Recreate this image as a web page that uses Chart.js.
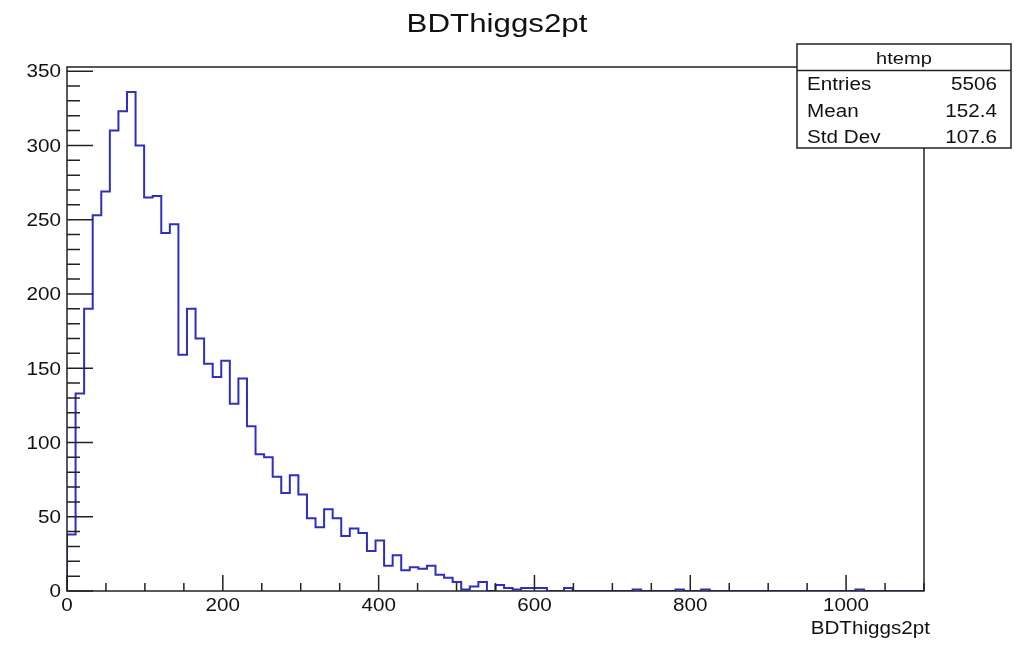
<!DOCTYPE html>
<html lang="en">
<head>
<meta charset="UTF-8">
<title>BDThiggs2pt</title>
<script src="https://cdn.jsdelivr.net/npm/chart.js"></script>
<style>
    body {
        margin: 0;
        background-color: #ffffff;
    }
    #chart {
        display: block;
    }
</style>
</head>
<body>
<canvas id="chart" width="1025" height="645"></canvas>
<script>
// histogram binning (100 bins from 0 to 1100)
const xMin = 0;
const xMax = 1100;
const yMax = 352.8;
const binCounts = [
    38, 133, 190, 253, 269, 310, 323, 336, 300, 265,
    266, 241, 247, 159, 190, 170, 153, 144, 155, 126,
    143, 111, 92, 90, 77, 66, 78, 65, 49, 43,
    55, 49, 37, 42, 39, 27, 34, 17, 24, 14,
    16, 15, 17, 11, 9, 6, 1, 3, 6, 0,
    4, 2, 1, 2, 2, 2, 0, 0, 2, 0,
    0, 0, 0, 0, 0, 0, 1, 0, 0, 0,
    0, 1, 0, 0, 1, 0, 0, 0, 0, 0,
    0, 0, 0, 0, 0, 0, 0, 0, 0, 0,
    0, 0, 1, 0, 0, 0, 0, 0, 0, 0
];
const xTickLabels = [0, 200, 400, 600, 800, 1000];
const yTickLabels = [0, 50, 100, 150, 200, 250, 300, 350];
const histTitle = 'BDThiggs2pt';
const xAxisTitle = 'BDThiggs2pt';
const statsTitle = 'htemp';
const statsNames = ['Entries', 'Mean', 'Std Dev'];
const statsValues = ['5506', '152.4', '107.6'];

// step line points: left edge of every bin, closed down to the axis
const binWidth = (xMax - xMin) / binCounts.length;
const points = [{x: xMin, y: 0}];
binCounts.forEach((c, i) => points.push({x: xMin + i * binWidth, y: c}));
points.push({x: xMax, y: binCounts[binCounts.length - 1]});
points.push({x: xMax, y: 0});

const FONT = '"Liberation Sans", Arial, Helvetica, sans-serif';
const STRETCH = 1.18; // text in the picture is a bit wide

function drawText(ctx, s, x, y, size, align) {
    ctx.save();
    ctx.font = size + 'px ' + FONT;
    ctx.textAlign = align;
    ctx.textBaseline = 'alphabetic';
    ctx.fillStyle = '#111';
    ctx.translate(x, y);
    ctx.scale(STRETCH, 1);
    ctx.fillText(s, 0, 0);
    ctx.restore();
}

const rootFrame = {
    id: 'rootFrame',
    beforeDraw(chart) {
        const ctx = chart.ctx;
        ctx.save();
        ctx.fillStyle = '#ffffff';
        ctx.fillRect(0, 0, chart.width, chart.height);
        ctx.restore();
    },
    afterDatasetsDraw(chart) {
        const ctx = chart.ctx;
        const a = chart.chartArea;
        const xs = chart.scales.x;
        const ys = chart.scales.y;
        ctx.save();
        ctx.strokeStyle = '#222';
        ctx.lineWidth = 1.5;

        // minor + major ticks, drawn inside the frame like ROOT
        ctx.beginPath();
        for (let v = 0; v <= xMax; v += 50) {
            const px = xs.getPixelForValue(v);
            const len = (v % 200 === 0) ? 16 : 8;
            ctx.moveTo(px, a.bottom);
            ctx.lineTo(px, a.bottom - len);
        }
        for (let v = 0; v <= yMax; v += 10) {
            const py = ys.getPixelForValue(v);
            const len = (v % 50 === 0) ? 26 : 13;
            ctx.moveTo(a.left, py);
            ctx.lineTo(a.left + len, py);
        }
        ctx.stroke();

        // frame
        ctx.strokeRect(a.left, a.top, a.right - a.left, a.bottom - a.top);
        ctx.restore();

        xTickLabels.forEach(v => drawText(ctx, String(v), xs.getPixelForValue(v), a.bottom + 20, 17.5, 'center'));
        yTickLabels.forEach(v => drawText(ctx, String(v), a.left - 6, ys.getPixelForValue(v) + 6.3, 17.5, 'right'));

        drawText(ctx, histTitle, 497, 31.5, 26.5, 'center');
        drawText(ctx, xAxisTitle, 930, 634, 17.5, 'right');

        // stats box
        const bx = 797, by = 44, bw = 214, bh = 104, hdr = 26.5;
        ctx.save();
        ctx.fillStyle = '#ffffff';
        ctx.fillRect(bx, by, bw, bh);
        ctx.strokeStyle = '#222';
        ctx.lineWidth = 1.5;
        ctx.strokeRect(bx, by, bw, bh);
        ctx.beginPath();
        ctx.moveTo(bx, by + hdr);
        ctx.lineTo(bx + bw, by + hdr);
        ctx.stroke();
        ctx.restore();
        drawText(ctx, statsTitle, bx + bw / 2, by + 20, 17, 'center');
        statsNames.forEach((n, i) => {
            const yy = by + 46 + i * 26.7;
            drawText(ctx, n, bx + 10, yy, 17.5, 'left');
            drawText(ctx, statsValues[i], bx + bw - 14, yy, 17.5, 'right');
        });
    }
};

new Chart(document.getElementById('chart'), {
    type: 'line',
    data: {
        datasets: [{
            label: statsTitle,
            data: points,
            stepped: 'before',
            borderColor: '#2f2fbf',
            borderWidth: 2,
            pointRadius: 0,
            fill: false,
            tension: 0
        }]
    },
    options: {
        responsive: false,
        animation: false,
        layout: {
            padding: {left: 67, right: 101, top: 67, bottom: 54}
        },
        scales: {
            x: {type: 'linear', min: xMin, max: xMax, display: false},
            y: {type: 'linear', min: 0, max: yMax, display: false}
        },
        plugins: {
            legend: {display: false},
            tooltip: {enabled: false}
        }
    },
    plugins: [rootFrame]
});
</script>
</body>
</html>
